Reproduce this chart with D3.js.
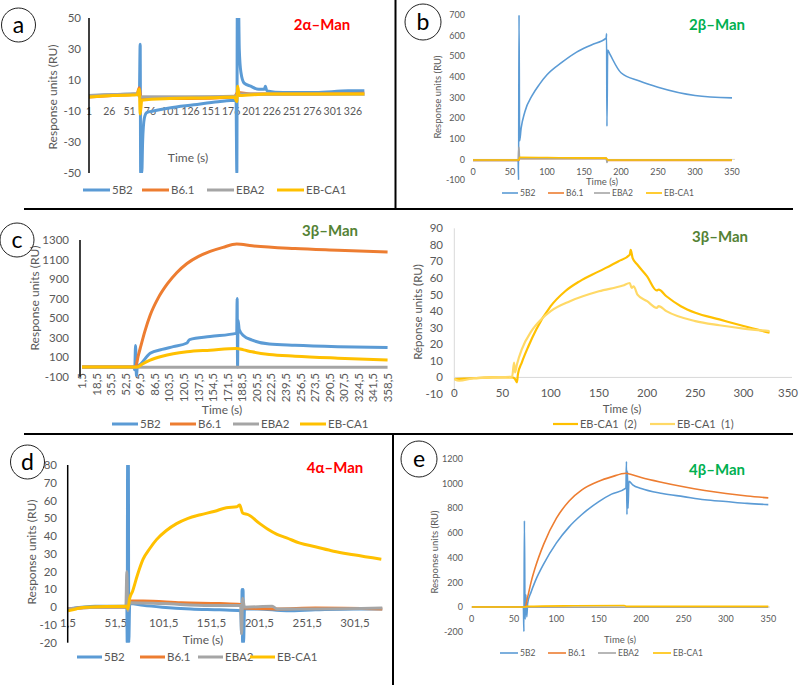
<!DOCTYPE html>
<html>
<head>
<meta charset="utf-8">
<script src="https://cdn.jsdelivr.net/npm/d3@7"></script>
<style>
  body { margin: 0; background: #fff; }
  svg { display: block; font-family: Lato, "Open Sans", sans-serif; }
  text { white-space: pre; }
</style>
</head>
<body>
<svg id="fig" width="799" height="685"></svg>
<script>
// ---- data: [time (s), response (RU)] ----
const seriesNames = ["5B2", "B6.1", "EBA2", "EB-CA1"];
const seriesColors = ["#5B9BD5", "#ED7D31", "#A5A5A5", "#FFC000"];

// panel a : 2α-Man
const aTicks = [1, 26, 51, 76, 101, 126, 151, 176, 201, 226, 251, 276, 301, 326];
const a5B2 = [[1,0],[30,0.5],[60,1],[63,1],[64,33],[64.6,-50],[66,-50],[67,-30],[69,-15],[72,-11],[80,-10],[100,-8],[130,-6],[160,-4],[182,-3],[183,-50],[183.6,60],[185,60],[186,30],[188,15],[192,8],[200,6],[210,4],[217,4],[218,6],[220,3],[240,2],[280,2],[320,3],[340,3]];
const aB61 = [[1,-1],[30,0],[60,1],[63,5],[65,-3],[70,-2],[120,-2],[180,-1],[184,2],[200,1],[260,1],[340,1.5]];
const aEBA2 = [[1,0],[60,1],[64,-1],[120,-1],[180,-0.5],[185,1],[340,1]];
const aEBCA1 = [[1,-1],[30,0],[60,0.5],[63,4],[64,-12],[66,-3],[100,-2],[150,-1.5],[180,-1],[183,-4],[184,6],[186,0],[220,1],[340,1]];

// panel b : 2β-Man
const bTicks = [0, 50, 100, 150, 200, 250, 300, 350];
const b5B2 = [[0,-5],[61,-5],[61.6,-100],[62.2,700],[63,90],[65,150],[70,230],[80,310],[90,365],[100,410],[120,470],[140,520],[160,555],[180,588],[180.5,610],[181,160],[182,530],[185,510],[200,420],[225,380],[250,350],[300,310],[350,298]];
const bB61 = [[0,-5],[62,-5],[63,5],[180,5],[182,-5],[350,-5]];
const bEBA2 = [[0,-3],[61,-3],[62,60],[63,5],[180,5],[181,-15],[182,-3],[350,-3]];
const bEBCA1 = [[0,-3],[62,-3],[63,10],[120,8],[180,6],[182,-3],[350,-3]];

// panel c (left) : 3β-Man
const cTicks = [1.5, 18.5, 35.5, 52.5, 69.5, 86.5, 103.5, 120.5, 137.5, 154.5, 171.5, 188.5, 205.5, 222.5, 239.5, 256.5, 273.5, 290.5, 307.5, 324.5, 341.5, 358.5];
const c5B2 = [[1.5,0],[62,0],[63,-30],[64,220],[65,-100],[66,0],[70,30],[81,140],[95,180],[108,208],[124,245],[127,280],[151,311],[182,346],[182.5,700],[183,0],[183.5,480],[185,380],[190,320],[200,275],[220,235],[250,222],[300,208],[358,198]];
const cB61 = [[1.5,0],[64,0],[67,110],[70,210],[75,370],[81,530],[90,700],[101,850],[112,965],[124,1060],[137,1130],[151,1183],[166,1225],[182,1258],[200,1240],[250,1212],[300,1195],[358,1177]];
const cEBA2 = [[1.5,-2],[100,-3],[200,-3],[358,-3]];
const cEBCA1 = [[1.5,0],[66,0],[72,30],[81,70],[95,110],[108,135],[124,155],[151,172],[182,190],[190,175],[200,155],[220,128],[250,110],[300,90],[358,72]];

// panel c (right) : 3β-Man, two EB-CA1 runs
const crTicks = [0, 50, 100, 150, 200, 250, 300, 350];
const crNames = ["EB-CA1  (2)", "EB-CA1  (1)"];
const crColors = ["#FFC000", "#FFD966"];
const crRun2 = [[0,-1],[20,-0.5],[40,0],[60,0],[63,-1],[65,-3],[66,2],[70,9],[77,19],[85,29],[100,43],[115,52],[130,58],[150,64],[170,70],[182,74],[183,77],[185,72],[190,68],[200,61],[210,52.5],[212,53],[220,49],[235,43],[250,39],[275,35],[300,31],[327,27]];
const crRun1 = [[0,-1],[5,-2],[20,-0.5],[40,0],[60,0.5],[62,9],[63,3],[65,8],[70,17],[80,28],[90,35],[100,40],[120,46],[150,52],[175,55.5],[182,57],[184,54],[186,55],[190,50],[200,46],[210,42],[212,43],[220,40],[250,34],[275,31.5],[300,29.5],[327,28]];

// panel d : 4α-Man
const dTicks = [1.5, 51.5, 101.5, 151.5, 201.5, 251.5, 301.5];
const d5B2 = [[1.5,-1],[30,0.5],[63,0.5],[63.4,-20],[63.8,80],[64.2,-20],[64.6,80],[65,-20],[66,2],[80,1],[100,0],[130,-1],[160,-1.5],[182,-2],[183,-15],[183.5,10],[184,-20],[184.5,10],[185,-20],[186,-1],[200,-1],[230,-2],[260,-1.5],[300,-1],[330,-1]];
const dB61 = [[1.5,-1],[30,0],[63,0],[66,3.5],[80,3.5],[120,2.5],[160,2],[182,1.5],[185,-0.5],[220,-1],[260,-0.5],[330,-1]];
const dEBA2 = [[1.5,-1],[30,0],[62,0],[63,20],[64,-2],[66,2.5],[100,2],[150,1],[182,1],[183,-15],[184,5],[186,0],[215,0.5],[220,-1],[260,-1],[330,-0.5]];
const dEBCA1 = [[1.5,-2],[10,-1],[20,0],[63,0.5],[64,-1],[66,5],[69,9],[74,18],[80,27],[87,33],[94,38],[104,43],[115,47],[127,50],[140,52],[155,54],[167,56],[178,56.5],[181,57.5],[184,53],[190,52],[202,47],[210,44],[220,41],[230,39],[244,36],[260,34],[279,31.5],[300,29.5],[329,27]];

// panel e : 4β-Man
const eTicks = [0, 50, 100, 150, 200, 250, 300, 350];
const e5B2 = [[0,0],[61,0],[61.6,-200],[62.2,700],[63,-100],[64,100],[65,-80],[66,30],[70,120],[75,210],[85,350],[100,520],[115,650],[130,750],[150,855],[165,915],[182,963],[182.6,1180],[183.2,750],[183.8,1100],[184.5,800],[185.5,1020],[190,990],[200,960],[225,920],[250,895],[275,870],[300,855],[325,840],[350,830]];
const eB61 = [[0,0],[63,0],[66,80],[70,200],[75,320],[85,510],[100,720],[115,860],[130,950],[150,1020],[165,1055],[182,1085],[185,1080],[200,1050],[225,1010],[250,975],[275,945],[300,920],[325,900],[350,885]];
const eEBA2 = [[0,-2],[350,-2]];
const eEBCA1 = [[0,0],[63,0],[65,5],[120,10],[180,12],[183,5],[350,5]];

const svg = d3.select("#fig");
const tickGray = "#595959";
let clipId = 0;

function drawPanel(p) {
  const g = svg.append("g");
  const x = d3.scaleLinear().domain(p.xDomain).range(p.xRange);
  const y = d3.scaleLinear().domain(p.yDomain).range(p.yRange);

  // light axis lines
  if (p.zeroLine) {
    g.append("line").attr("x1", p.xRange[0]).attr("x2", p.clipRight)
      .attr("y1", y(0)).attr("y2", y(0)).attr("stroke", "#D9D9D9").attr("stroke-width", 1);
  }
  if (p.grayYAxis) {
    g.append("line").attr("x1", p.xRange[0]).attr("x2", p.xRange[0])
      .attr("y1", p.yRange[1]).attr("y2", p.yRange[0]).attr("stroke", "#D9D9D9").attr("stroke-width", 1);
  }

  // y tick labels
  g.append("g").selectAll("text").data(p.yTicks).join("text")
    .attr("x", p.yLabelX).attr("y", d => y(d)).attr("dy", "0.35em")
    .attr("text-anchor", "end").attr("fill", tickGray).attr("font-size", p.tickSize)
    .text(d => d);

  // x tick labels
  const fmt = p.xFmt || (d => d);
  const xSize = p.xTickSize || p.tickSize;
  if (p.rotateX) {
    g.append("g").selectAll("text").data(p.xTicks).join("text")
      .attr("transform", d => `translate(${x(d)},${p.xLabelY}) rotate(-90)`)
      .attr("dy", "0.35em").attr("text-anchor", "end")
      .attr("fill", tickGray).attr("font-size", xSize).text(fmt);
  } else {
    const last = p.xTicks.length - 1;
    g.append("g").selectAll("text").data(p.xTicks).join("text")
      .attr("x", (d, i) => (p.lastEdge && i === last) ? p.lastEdge : x(d))
      .attr("y", p.xLabelY).attr("dy", "0.35em")
      .attr("text-anchor", (d, i) => (p.lastEdge && i === last) ? "end" : "middle")
      .attr("fill", tickGray).attr("font-size", xSize)
      .text(fmt);
  }

  // clip to plot area
  const id = "clip" + (clipId++);
  g.append("clipPath").attr("id", id).append("rect")
    .attr("x", p.xRange[0]).attr("y", p.yRange[1])
    .attr("width", p.clipRight - p.xRange[0]).attr("height", p.yRange[0] - p.yRange[1]);

  const line = d3.line().x(d => x(d[0])).y(d => y(d[1])).curve(d3.curveMonotoneX);
  const lines = g.append("g").attr("clip-path", `url(#${id})`);
  p.series.forEach((s, i) => {
    lines.append("path").attr("d", line(s)).attr("fill", "none")
      .attr("stroke", p.colors[i]).attr("stroke-width", p.lineWidth)
      .attr("stroke-linejoin", "round");
  });

  // black y axis line (Excel 2010 style panels)
  if (p.blackYAxis) {
    g.append("line").attr("x1", p.blackYAxis).attr("x2", p.blackYAxis)
      .attr("y1", p.yRange[1]).attr("y2", p.yRange[0]).attr("stroke", "#000").attr("stroke-width", 1.5);
  }

  // titles
  g.append("text").attr("x", p.title.x).attr("y", p.title.y).attr("dy", "0.35em")
    .attr("text-anchor", "middle").attr("font-weight", "bold").attr("font-size", 15)
    .attr("fill", p.title.color).text(p.title.text);
  g.append("text").attr("x", p.timeLabel[0]).attr("y", p.timeLabel[1]).attr("dy", "0.35em")
    .attr("text-anchor", "middle").attr("fill", tickGray).attr("font-size", p.labelSize).text("Time (s)");
  g.append("text").attr("transform", `translate(${p.yTitle[0]},${p.yTitle[1]}) rotate(-90)`)
    .attr("dy", "0.35em").attr("text-anchor", "middle").attr("fill", tickGray)
    .attr("font-size", p.labelSize).text(p.yTitleText || "Response units (RU)");

  // legend
  const leg = g.append("g");
  p.names.forEach((n, i) => {
    const lx = p.legendX[i];
    leg.append("line").attr("x1", lx).attr("x2", lx + p.legendLen)
      .attr("y1", p.legendY).attr("y2", p.legendY)
      .attr("stroke", p.colors[i]).attr("stroke-width", p.lineWidth);
    leg.append("text").attr("x", lx + p.legendLen + 2).attr("y", p.legendY).attr("dy", "0.35em")
      .attr("fill", tickGray).attr("font-size", p.legendSize).text(n);
  });
}

const comma = d => String(d).replace(".", ",");

drawPanel({
  xDomain: [1, 326], xRange: [89, 353], clipRight: 365,
  yDomain: [-50, 50], yRange: [173, 18],
  yTicks: [50, 30, 10, -10, -30, -50], yLabelX: 81, tickSize: 11.5,
  xTicks: aTicks, xLabelY: 111, xTickSize: 10.5,
  zeroLine: true, blackYAxis: 89, lineWidth: 3,
  series: [a5B2, aB61, aEBA2, aEBCA1], colors: seriesColors, names: seriesNames,
  title: {text: "2α–Man", x: 322, y: 25, color: "#FF0000"},
  timeLabel: [188, 158], yTitle: [53, 97], labelSize: 12,
  legendX: [83, 142, 207, 277], legendY: 190, legendLen: 27, legendSize: 11.5
});

drawPanel({
  xDomain: [0, 350], xRange: [473, 732], clipRight: 735,
  yDomain: [-100, 700], yRange: [180, 15],
  yTicks: [700, 600, 500, 400, 300, 200, 100, 0, -100], yLabelX: 465, tickSize: 9,
  xTicks: bTicks, xLabelY: 172,
  zeroLine: true, lineWidth: 1.6,
  series: [b5B2, bB61, bEBA2, bEBCA1], colors: seriesColors, names: seriesNames,
  title: {text: "2β–Man", x: 717, y: 25, color: "#00B050"},
  timeLabel: [602, 182], yTitle: [438, 97], labelSize: 9.5,
  legendX: [502, 548, 594, 646], legendY: 193, legendLen: 16, legendSize: 8.5
});

drawPanel({
  xDomain: [1.5, 358.5], xRange: [82, 388], clipRight: 390,
  yDomain: [-100, 1300], yRange: [376.7, 240],
  yTicks: [1300, 1100, 900, 700, 500, 300, 100, -100], yLabelX: 69, tickSize: 11.5,
  xTicks: cTicks, xLabelY: 373, rotateX: true, xFmt: comma,
  blackYAxis: 80, lineWidth: 3,
  series: [c5B2, cB61, cEBA2, cEBCA1], colors: seriesColors, names: seriesNames,
  title: {text: "3β–Man", x: 330, y: 231, color: "#548235"},
  timeLabel: [222, 410], yTitle: [35, 298], labelSize: 12,
  legendX: [112, 170, 233, 300], legendY: 424, legendLen: 26, legendSize: 11.5
});

drawPanel({
  xDomain: [0, 350], xRange: [454.3, 791.7], clipRight: 792,
  yDomain: [-10, 90], yRange: [394, 228.3],
  yTicks: [90, 80, 70, 60, 50, 40, 30, 20, 10, 0, -10], yLabelX: 443, tickSize: 11.5,
  xTicks: crTicks, xLabelY: 393, lastEdge: 798,
  zeroLine: true, grayYAxis: true, lineWidth: 2.2,
  series: [crRun2, crRun1], colors: crColors, names: crNames,
  title: {text: "3β–Man", x: 720, y: 237, color: "#548235"},
  timeLabel: [622, 409], yTitle: [418, 312], yTitleText: "Réponse units (RU)", labelSize: 11.5,
  legendX: [553, 650], legendY: 424, legendLen: 25, legendSize: 11
});

drawPanel({
  xDomain: [1.5, 301.5], xRange: [68, 355], clipRight: 385,
  yDomain: [-20, 80], yRange: [642.7, 465],
  yTicks: [80, 70, 60, 50, 40, 30, 20, 10, 0, -10, -20], yLabelX: 57, tickSize: 11.5,
  xTicks: dTicks, xLabelY: 623, xFmt: comma,
  blackYAxis: 67.7, lineWidth: 3,
  series: [d5B2, dB61, dEBA2, dEBCA1], colors: seriesColors, names: seriesNames,
  title: {text: "4α–Man", x: 335, y: 468, color: "#FF0000"},
  timeLabel: [203, 640], yTitle: [32, 552], labelSize: 12,
  legendX: [77, 140, 198, 250], legendY: 657, legendLen: 25, legendSize: 11.5
});

drawPanel({
  xDomain: [0, 350], xRange: [471.7, 768.3], clipRight: 770,
  yDomain: [-200, 1200], yRange: [631.7, 459],
  yTicks: [1200, 1000, 800, 600, 400, 200, 0, -200], yLabelX: 463, tickSize: 9,
  xTicks: eTicks, xLabelY: 619,
  zeroLine: true, lineWidth: 1.6,
  series: [e5B2, eB61, eEBA2, eEBCA1], colors: seriesColors, names: seriesNames,
  title: {text: "4β–Man", x: 717, y: 470, color: "#00B050"},
  timeLabel: [620, 640], yTitle: [435, 552], labelSize: 9.5,
  legendX: [500, 548, 598, 653], legendY: 653, legendLen: 18, legendSize: 8.5
});

// frame separators
const frame = svg.append("g").attr("stroke", "#000").attr("stroke-width", 2);
frame.append("line").attr("x1", 395.5).attr("x2", 395.5).attr("y1", 0).attr("y2", 209);
frame.append("line").attr("x1", 24).attr("x2", 793).attr("y1", 209).attr("y2", 209);
frame.append("line").attr("x1", 24).attr("x2", 793).attr("y1", 434).attr("y2", 434);
frame.append("line").attr("x1", 393).attr("x2", 393).attr("y1", 434).attr("y2", 685);

// panel letters
const badges = [["a", 18.5, 25, 17], ["b", 423, 22, 18], ["c", 17, 240, 17], ["d", 27.5, 462, 17], ["e", 419, 459, 18]];
badges.forEach(([t, cx, cy, r]) => {
  svg.append("circle").attr("cx", cx).attr("cy", cy).attr("r", r)
    .attr("fill", "none").attr("stroke", "#222").attr("stroke-width", 1);
  svg.append("text").attr("x", cx).attr("y", cy).attr("dy", "0.33em")
    .attr("text-anchor", "middle").attr("font-size", 23).attr("fill", "#000").text(t);
});
</script>
</body>
</html>
